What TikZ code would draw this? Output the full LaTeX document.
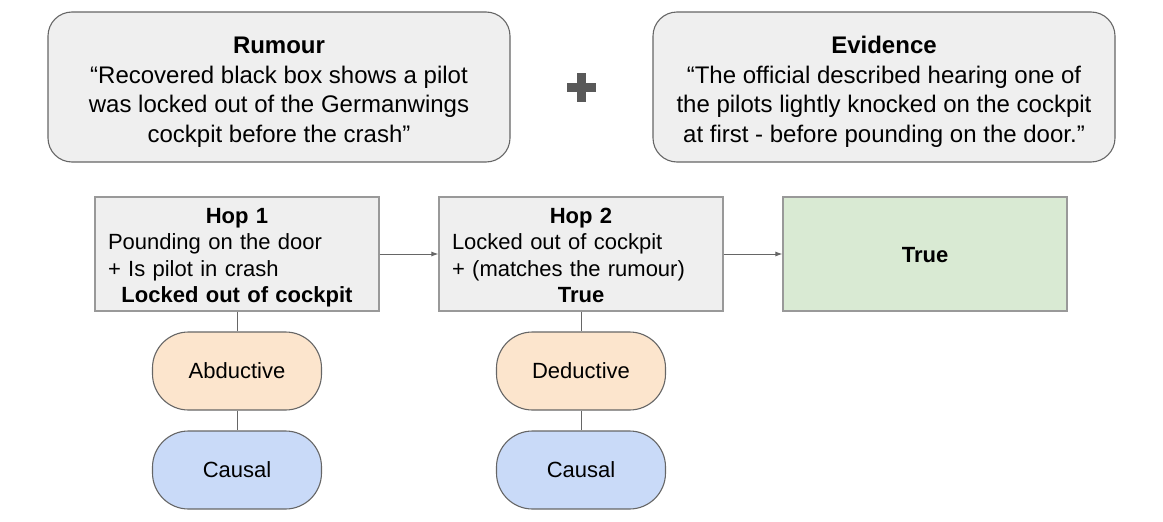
\documentclass[tikz,border=0pt]{standalone}
\usepackage{fontspec}
\setmainfont{Liberation Sans}
\usetikzlibrary{arrows.meta}
\definecolor{boxgray}{HTML}{EFEFEF}
\definecolor{linegray}{HTML}{666666}
\definecolor{hopedge}{HTML}{999999}
\definecolor{plusgray}{HTML}{595959}
\definecolor{truegreen}{HTML}{D9EAD3}
\definecolor{reasonorange}{HTML}{FCE5CD}
\definecolor{typeblue}{HTML}{C9DAF8}
\newcommand{\midbold}[1]{\makebox[\linewidth]{\textbf{#1}}}
\newcommand{\toprule}[1]{\rule{0pt}{#1}}
\newcommand{\lowrule}{\rule[-5pt]{0pt}{5pt}}
\begin{document}
\begin{tikzpicture}[x=1pt, y=-1pt,
  topbox/.style={draw=linegray, line width=1.1pt, fill=boxgray, rounded corners=24pt,
    minimum width=462pt, minimum height=150pt, align=center,
    font=\fontsize{24}{29.5}\selectfont},
  hopbox/.style={draw=hopedge, line width=1.1pt, fill=boxgray, minimum width=284pt,
    minimum height=114pt, text width=258pt, align=left,
    font=\fontsize{22}{26.5}\selectfont},
  pill/.style={draw=linegray, line width=1.1pt, rounded corners=36pt, minimum width=169pt,
    minimum height=78pt, font=\fontsize{22}{26.5}\selectfont},
  link/.style={linegray, line width=1pt},
  flow/.style={link, -{Latex[length=7pt,width=5pt]}}]
  \useasboundingbox (0,0) rectangle (1163,522);
  % Claim and evidence
  \node[topbox] (rumour) at (279,87) {\toprule{26.7pt}\textbf{Rumour}\\
    “Recovered black box shows a pilot\\
    was locked out of the Germanwings\\
    cockpit before the crash”\lowrule};
  \node[topbox] (evidence) at (884,87) {\toprule{26.7pt}\textbf{Evidence}\\
    “The official described hearing one of\\
    the pilots lightly knocked on the cockpit\\
    at first - before pounding on the door.”\lowrule};
  \coordinate (plus) at (581,87);
  \fill[plusgray] ([xshift=-14.5pt,yshift=-4.5pt]plus) rectangle ([xshift=14.5pt,yshift=4.5pt]plus);
  \fill[plusgray] ([xshift=-4.5pt,yshift=-14.5pt]plus) rectangle ([xshift=4.5pt,yshift=14.5pt]plus);
  % Reasoning hops
  \node[hopbox] (hop1) at (237,254) {\toprule{22.5pt}\midbold{Hop 1}\\
    Pounding on the door\\
    + Is pilot in crash\\
    \midbold{Locked out of cockpit}\lowrule};
  \node[hopbox] (hop2) at (581,254) {\toprule{22.5pt}\midbold{Hop 2}\\
    Locked out of cockpit\\
    + (matches the rumour)\\
    \midbold{True}\lowrule};
  \node[hopbox, fill=truegreen, align=center] (verdict) at (925,254)
    {\toprule{17.7pt}\textbf{True}};
  \draw[flow] (hop1) -- (hop2);
  \draw[flow] (hop2) -- (verdict);
  % Reasoning type per hop
  \node[pill, fill=reasonorange] (abd) at (237,371) {Abductive};
  \node[pill, fill=typeblue] (cause1) at (237,470) {Causal};
  \node[pill, fill=reasonorange] (ded) at (581,371) {Deductive};
  \node[pill, fill=typeblue] (cause2) at (581,470) {Causal};
  \draw[link] (hop1) -- (abd); \draw[link] (abd) -- (cause1);
  \draw[link] (hop2) -- (ded); \draw[link] (ded) -- (cause2);
\end{tikzpicture}
\end{document}
